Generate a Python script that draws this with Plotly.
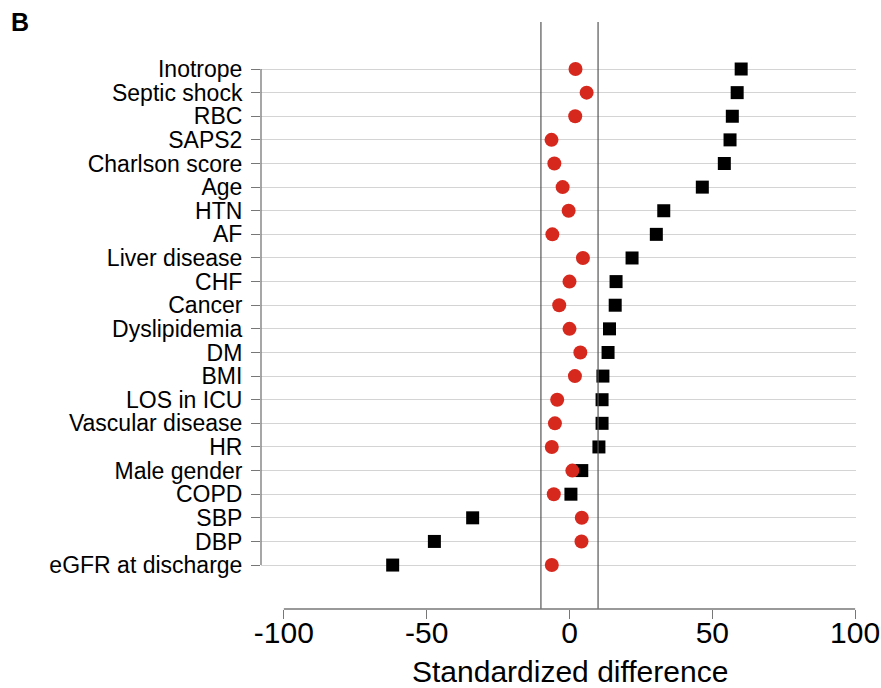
import plotly.graph_objects as go

labels = ["Inotrope", "Septic shock", "RBC", "SAPS2", "Charlson score", "Age", "HTN", "AF",
          "Liver disease", "CHF", "Cancer", "Dyslipidemia", "DM", "BMI", "LOS in ICU",
          "Vascular disease", "HR", "Male gender", "COPD", "SBP", "DBP", "eGFR at discharge"]
before_match = [60.1, 58.7, 57.0, 56.2, 54.2, 46.5, 33.0, 30.4, 21.9, 16.3, 16.0, 14.0, 13.5,
                11.7, 11.4, 11.4, 10.3, 4.3, 0.5, -33.9, -47.3, -61.9]
after_match = [2.1, 6.0, 2.0, -6.3, -5.3, -2.4, -0.3, -6.0, 4.7, 0.0, -3.6, 0.0, 3.8, 1.9,
               -4.3, -5.1, -6.2, 1.0, -5.5, 4.3, 4.2, -6.2]
x_ticks = [-100, -50, 0, 50, 100]
threshold = 10

FONT = "Liberation Sans, Arial, Helvetica, sans-serif"
n = len(labels)
rows = list(range(n))

fig = go.Figure()
fig.add_trace(go.Scatter(x=before_match, y=rows, mode="markers",
                         marker=dict(symbol="square", size=13, color="black"),
                         showlegend=False, cliponaxis=False, hovertext=labels))
fig.add_trace(go.Scatter(x=after_match, y=rows, mode="markers",
                         marker=dict(symbol="circle", size=14, color="#d7281e"),
                         showlegend=False, cliponaxis=False, hovertext=labels))

shapes = [
    dict(type="line", xref="x", yref="paper", x0=-threshold, x1=-threshold, y0=0, y1=1,
         line=dict(color="#555555", width=1.2)),
    dict(type="line", xref="x", yref="paper", x0=threshold, x1=threshold, y0=0, y1=1,
         line=dict(color="#555555", width=1.2)),
    dict(type="line", xref="x", yref="paper", x0=x_ticks[0], x1=x_ticks[-1], y0=0, y1=0,
         line=dict(color="#777777", width=1.3)),
    dict(type="line", xref="paper", yref="y", x0=0, x1=0, y0=0, y1=n - 1,
         line=dict(color="#777777", width=1.3)),
]

fig.update_layout(
    width=881, height=688,
    margin=dict(l=261, r=25, t=22, b=79, autoexpand=False),
    plot_bgcolor="white", paper_bgcolor="white",
    font=dict(family=FONT, color="black"),
    shapes=shapes,
    xaxis=dict(range=[-108, 100.3], tickmode="array", tickvals=x_ticks,
               ticktext=[str(v) for v in x_ticks], automargin=False,
               ticklabeloverflow="allow",
               showgrid=False, zeroline=False, showline=False,
               ticks="outside", ticklen=9, tickwidth=1.3, tickcolor="#777777",
               ticklabelstandoff=-12,
               tickfont=dict(size=30, family=FONT, color="black")),
    yaxis=dict(tickmode="array", tickvals=rows, ticktext=labels, automargin=False,
               range=[n - 1 + 1.86, -1.99],
               showgrid=True, gridcolor="#d4d4d4", gridwidth=1.3,
               zeroline=False, showline=False,
               ticks="outside", ticklen=9, tickwidth=1.3, tickcolor="#777777",
               ticklabelstandoff=4,
               tickfont=dict(size=23, family=FONT, color="black")),
    annotations=[
        dict(text="<b>B</b>", xref="paper", yref="paper", x=-0.4235, y=1.0, xanchor="left",
             yanchor="middle", showarrow=False, font=dict(size=25, family=FONT)),
        dict(text="Standardized difference", xref="x", yref="paper", x=0, y=0, yshift=-62,
             xanchor="center", yanchor="middle", showarrow=False,
             font=dict(size=30, family=FONT)),
    ],
)

fig.write_html("out.html", config={"displayModeBar": False},
               post_script="document.body.style.margin='0';document.body.style.overflow='hidden';")
